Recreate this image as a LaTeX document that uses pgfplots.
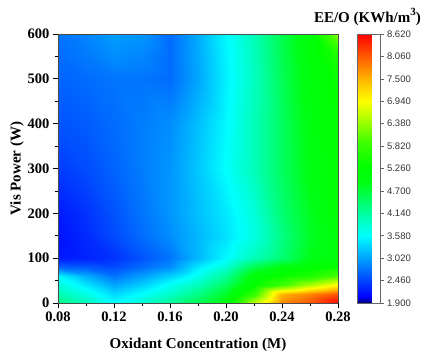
\documentclass[border=0pt]{standalone}
\usepackage{fontspec}
\setmainfont{Liberation Serif}
\setsansfont{Liberation Sans}
\usepackage{pgfplots}
\pgfplotsset{compat=1.18}
\pgfplotsset{colormap={eeo}{
 rgb255(0pt)=(0,0,110)
 rgb255(15pt)=(0,0,255)
 rgb255(168pt)=(0,255,255)
 rgb255(224pt)=(0,255,160)
 rgb255(300pt)=(0,255,20)
 rgb255(340pt)=(0,255,0)
 rgb255(400pt)=(60,255,0)
 rgb255(504pt)=(255,255,0)
 rgb255(560pt)=(255,180,0)
 rgb255(616pt)=(255,90,0)
 rgb255(672pt)=(255,0,0)}}
\begin{document}
\begin{tikzpicture}
\begin{axis}[name=main, scale only axis, width=280pt, height=269pt,
 view={0}{90}, xmin=0.08, xmax=0.28, ymin=0, ymax=600,
 xtick={0.08,0.12,0.16,0.20,0.24,0.28}, ytick={0,100,200,300,400,500,600},
 minor x tick num=1, minor y tick num=1,
 tick align=outside, xtick pos=bottom, ytick pos=left,
 major tick length=5pt, minor tick length=3pt,
 tick style={black, line width=0.8pt},
 axis line style={black!70, line width=0.8pt},
 xticklabel style={/pgf/number format/.cd, fixed, fixed zerofill, precision=2, assume math mode=true},
 yticklabel style={/pgf/number format/.cd, assume math mode=true},
 ticklabel style={font=\fontsize{14.5}{14.5}\selectfont\bfseries},
 xlabel={Oxidant Concentration (M)}, ylabel={Vis Power (W)},
 xlabel style={at={(axis description cs:0.5,-0.156)}, anchor=center},
 ylabel style={at={(axis description cs:-0.146,0.5)}, anchor=center, rotate=0},
 label style={font=\fontsize{15}{15}\selectfont\bfseries},
 colormap name=eeo, point meta min=1.9, point meta max=8.62,
 colorbar,
 colorbar style={
  at={(parent axis.north east)}, anchor=north west, xshift=11pt,
  width=23pt,
  ytick={1.9,2.46,3.02,3.58,4.14,4.7,5.26,5.82,6.38,6.94,7.5,8.06,8.62},
  ytick pos=right, yticklabel pos=right,
  yticklabel style={font=\fontsize{9.5}{9.5}\selectfont\sffamily, text=black!80,
   /pgf/number format/.cd, fixed, fixed zerofill, precision=3, assume math mode=true},
  tick align=outside, major tick length=3pt,
  tick style={black!60, line width=0.6pt},
  axis line style={black!60, line width=0.8pt},
 },
]
\addplot3[surf, shader=interp, point meta=explicit] table[x=x, y=y, z=z, meta=z] {
x y z
0.08 0 4.3
0.10 0 4.0
0.12 0 3.6
0.14 0 3.85
0.16 0 4.2
0.18 0 4.6
0.20 0 5.0
0.22 0 6.6
0.24 0 7.8
0.26 0 8.1
0.28 0 8.6

0.08 20 4.05
0.10 20 3.75
0.12 20 3.35
0.14 20 3.6
0.16 20 3.9
0.18 20 4.3
0.20 20 4.8
0.22 20 5.8
0.24 20 7.5
0.26 20 7.8
0.28 20 8.1

0.08 40 3.8
0.10 40 3.45
0.12 40 3.05
0.14 40 3.3
0.16 40 3.65
0.18 40 4.0
0.20 40 4.5
0.22 40 5.3
0.24 40 5.9
0.26 40 6.5
0.28 40 7.0

0.08 60 3.55
0.10 60 3.1
0.12 60 2.75
0.14 60 3.0
0.16 60 3.3
0.18 60 3.7
0.20 60 4.2
0.22 60 5.1
0.24 60 5.4
0.26 60 5.6
0.28 60 6.0

0.08 80 2.65
0.10 80 2.6
0.12 80 2.5
0.14 80 2.7
0.16 80 2.9
0.18 80 3.45
0.20 80 3.85
0.22 80 4.6
0.24 80 5.0
0.26 80 5.2
0.28 80 5.4

0.08 100 2.2
0.10 100 2.25
0.12 100 2.35
0.14 100 2.55
0.16 100 2.75
0.18 100 3.15
0.20 100 3.55
0.22 100 4.0
0.24 100 4.4
0.26 100 4.9
0.28 100 5.1

0.08 150 2.15
0.10 150 2.3
0.12 150 2.5
0.14 150 2.7
0.16 150 2.9
0.18 150 3.15
0.20 150 3.4
0.22 150 3.75
0.24 150 4.3
0.26 150 4.8
0.28 150 5.1

0.08 200 2.2
0.10 200 2.35
0.12 200 2.55
0.14 200 2.75
0.16 200 2.95
0.18 200 3.2
0.20 200 3.45
0.22 200 3.8
0.24 200 4.4
0.26 200 4.85
0.28 200 5.2

0.08 300 2.4
0.10 300 2.5
0.12 300 2.65
0.14 300 2.8
0.16 300 2.95
0.18 300 3.25
0.20 300 3.6
0.22 300 4.0
0.24 300 4.5
0.26 300 4.95
0.28 300 5.25

0.08 400 2.55
0.10 400 2.6
0.12 400 2.7
0.14 400 2.8
0.16 400 2.9
0.18 400 3.2
0.20 400 3.55
0.22 400 4.0
0.24 400 4.5
0.26 400 5.0
0.28 400 5.3

0.08 500 2.65
0.10 500 2.7
0.12 500 2.75
0.14 500 2.75
0.16 500 2.7
0.18 500 3.05
0.20 500 3.5
0.22 500 3.95
0.24 500 4.55
0.26 500 5.05
0.28 500 5.4

0.08 550 2.7
0.10 550 2.78
0.12 550 2.9
0.14 550 2.85
0.16 550 2.7
0.18 550 3.07
0.20 550 3.52
0.22 550 3.97
0.24 550 4.57
0.26 550 5.1
0.28 550 5.6

0.08 600 2.75
0.10 600 2.85
0.12 600 3.0
0.14 600 2.95
0.16 600 2.7
0.18 600 3.1
0.20 600 3.55
0.22 600 4.0
0.24 600 4.6
0.26 600 5.2
0.28 600 6.3
};
\end{axis}
\node[anchor=base east, inner sep=0pt] at ([xshift=83pt, yshift=12pt]main.north east)
 {\fontsize{15}{15}\selectfont\bfseries EE/O (KWh/m\raisebox{0.42em}{\fontsize{11}{11}\selectfont 3})};
\path (-58pt,-52pt) rectangle (365pt,303pt);
\end{tikzpicture}
\end{document}
